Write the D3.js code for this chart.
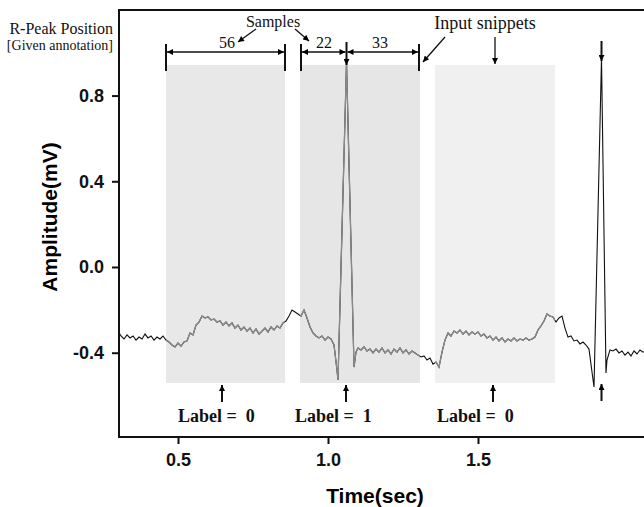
<!DOCTYPE html>
<html>
<head>
<meta charset="utf-8">
<script src="https://cdn.jsdelivr.net/npm/d3@7"></script>
<style>
  body { margin: 0; background: #fff; }
  svg { display: block; }
</style>
</head>
<body>
<div id="chart"></div>
<script>
// ECG trace: [time (s), amplitude (mV)]
const ecg = [
  [0.30, -0.299], [0.31, -0.322], [0.32, -0.336], [0.33, -0.317], [0.34, -0.331],
  [0.35, -0.322], [0.36, -0.341], [0.37, -0.327], [0.38, -0.336], [0.39, -0.313],
  [0.40, -0.331], [0.41, -0.322], [0.42, -0.341], [0.43, -0.327], [0.44, -0.336],
  [0.45, -0.322], [0.46, -0.341], [0.47, -0.350], [0.48, -0.364], [0.49, -0.373],
  [0.50, -0.355], [0.51, -0.369], [0.52, -0.350], [0.53, -0.345], [0.54, -0.308],
  [0.55, -0.317], [0.56, -0.271], [0.57, -0.257], [0.58, -0.229], [0.59, -0.238],
  [0.60, -0.233], [0.61, -0.247], [0.62, -0.243], [0.63, -0.257], [0.64, -0.252],
  [0.65, -0.271], [0.66, -0.257], [0.67, -0.275], [0.68, -0.261], [0.69, -0.285],
  [0.70, -0.271], [0.71, -0.294], [0.72, -0.280], [0.73, -0.299], [0.74, -0.285],
  [0.75, -0.308], [0.76, -0.289], [0.77, -0.313], [0.78, -0.299], [0.79, -0.285],
  [0.80, -0.303], [0.81, -0.280], [0.82, -0.294], [0.83, -0.275], [0.84, -0.285],
  [0.85, -0.261], [0.86, -0.252], [0.87, -0.229], [0.88, -0.201], [0.89, -0.210],
  [0.90, -0.219], [0.91, -0.229], [0.92, -0.201], [0.93, -0.238], [0.94, -0.280],
  [0.95, -0.308], [0.96, -0.322], [0.97, -0.331], [0.98, -0.322], [0.99, -0.341],
  [1.00, -0.327], [1.01, -0.336], [1.02, -0.364], [1.03, -0.481], [1.0333, -0.527],
  [1.0617, 0.957], [1.0867, -0.467], [1.0933, -0.397], [1.10, -0.378], [1.11, -0.387],
  [1.12, -0.373], [1.13, -0.392], [1.14, -0.383], [1.15, -0.401], [1.16, -0.383],
  [1.17, -0.397], [1.18, -0.378], [1.19, -0.401], [1.20, -0.387], [1.21, -0.406],
  [1.22, -0.383], [1.23, -0.397], [1.24, -0.378], [1.25, -0.401], [1.26, -0.387],
  [1.27, -0.406], [1.28, -0.392], [1.29, -0.401], [1.30, -0.411], [1.31, -0.420],
  [1.32, -0.415], [1.33, -0.434], [1.34, -0.425], [1.35, -0.453], [1.36, -0.443],
  [1.37, -0.467], [1.38, -0.397], [1.39, -0.341], [1.40, -0.308], [1.41, -0.322],
  [1.42, -0.299], [1.43, -0.308], [1.44, -0.294], [1.45, -0.313], [1.46, -0.299],
  [1.47, -0.317], [1.48, -0.303], [1.49, -0.313], [1.50, -0.303], [1.51, -0.322],
  [1.52, -0.313], [1.53, -0.331], [1.54, -0.322], [1.55, -0.341], [1.56, -0.327],
  [1.57, -0.345], [1.58, -0.331], [1.59, -0.350], [1.60, -0.336], [1.61, -0.345],
  [1.62, -0.331], [1.63, -0.345], [1.64, -0.336], [1.65, -0.341], [1.66, -0.331],
  [1.67, -0.341], [1.68, -0.336], [1.69, -0.327], [1.70, -0.294], [1.71, -0.275],
  [1.72, -0.252], [1.73, -0.219], [1.74, -0.229], [1.75, -0.233], [1.76, -0.257],
  [1.77, -0.238], [1.78, -0.229], [1.79, -0.285], [1.80, -0.327], [1.81, -0.322],
  [1.82, -0.345], [1.83, -0.341], [1.84, -0.359], [1.85, -0.350], [1.86, -0.364],
  [1.87, -0.383], [1.88, -0.490], [1.8867, -0.560], [1.9117, 0.975], [1.9267, -0.495],
  [1.93, -0.434], [1.94, -0.387], [1.95, -0.392], [1.96, -0.383], [1.97, -0.401],
  [1.98, -0.392], [1.99, -0.411], [2.00, -0.397], [2.01, -0.415], [2.02, -0.392],
  [2.03, -0.406], [2.04, -0.387], [2.05, -0.397], [2.06, -0.392]
];

// input snippets (seconds) and their labels
const snippetStart = [0.46, 0.9067, 1.3567];
const snippetEnd = [0.8567, 1.3067, 1.7567];
const snippetLabel = [0, 1, 0];
const snippetTop = 0.943;
const snippetBottom = -0.541;
const labelArrowAt = [0.6467, 1.06, 1.55];
const labelTextAt = [0.5, 0.89, 1.3633];

// R-peak annotations (seconds)
const rPeaks = [1.0617, 1.9117];

// sample counts marked on top
const sampleMarks = [0.46, 0.8567, 0.91, 1.0617, 1.3033];
const sampleCounts = ["56", "22", "33"];

const xTicks = [0.5, 1.0, 1.5];
const yTicks = [-0.4, 0.0, 0.4, 0.8];

const W = 644, H = 507;
const mLeft = 119, mTop = 10, mRight = 660, mBottom = 437;

const x = d3.scaleLinear().domain([0.3033, 2.1067]).range([mLeft, mRight]);
const y = d3.scaleLinear().domain([-0.7933, 1.1993]).range([mBottom, mTop]);

const svg = d3.select("#chart").append("svg")
  .attr("width", W).attr("height", H);

const defs = svg.append("defs");
defs.append("marker")
  .attr("id", "ah")
  .attr("viewBox", "0 0 10 10")
  .attr("refX", 10).attr("refY", 5)
  .attr("markerWidth", 7).attr("markerHeight", 6)
  .attr("markerUnits", "userSpaceOnUse")
  .attr("orient", "auto-start-reverse")
  .append("path").attr("d", "M0,0L10,5L0,10z").attr("fill", "#000");

defs.append("clipPath").attr("id", "plot")
  .append("rect").attr("x", mLeft).attr("y", mTop)
  .attr("width", mRight - mLeft).attr("height", mBottom - mTop);

snippetStart.forEach((s, i) => {
  defs.append("clipPath").attr("id", "snip" + i)
    .append("rect")
    .attr("x", x(s)).attr("y", mTop)
    .attr("width", x(snippetEnd[i]) - x(s))
    .attr("height", mBottom - mTop);
});

// shaded snippet boxes
const boxFill = ["#e8e8e8", "#e6e6e6", "#f0f0f0"];
svg.append("g").selectAll("rect")
  .data(snippetStart)
  .join("rect")
  .attr("x", d => x(d))
  .attr("y", y(snippetTop))
  .attr("width", (d, i) => x(snippetEnd[i]) - x(d))
  .attr("height", y(snippetBottom) - y(snippetTop))
  .attr("fill", (d, i) => boxFill[i]);

// ECG trace: black outside, gray inside the snippets
const line = d3.line().x(d => x(d[0])).y(d => y(d[1]));
svg.append("path")
  .datum(ecg)
  .attr("clip-path", "url(#plot)")
  .attr("d", line)
  .attr("fill", "none")
  .attr("stroke", "#111")
  .attr("stroke-width", 1.1);

snippetStart.forEach((s, i) => {
  svg.append("path")
    .datum(ecg)
    .attr("clip-path", `url(#snip${i})`)
    .attr("d", line)
    .attr("fill", "none")
    .attr("stroke", "#8a8a8a")
    .attr("stroke-width", 1.3);
});

// frame
svg.append("path")
  .attr("d", `M${mRight},${mTop}H${mLeft}V${mBottom}H${mRight}`)
  .attr("fill", "none")
  .attr("stroke", "#111")
  .attr("stroke-width", 2);

// axes
const fmt = d => d.toFixed(1);
const xAxis = svg.append("g")
  .attr("transform", `translate(0,${mBottom})`)
  .call(d3.axisBottom(x).tickValues(xTicks).tickSize(7).tickPadding(9).tickFormat(fmt));
const yAxis = svg.append("g")
  .attr("transform", `translate(${mLeft},0)`)
  .call(d3.axisLeft(y).tickValues(yTicks).tickSize(7).tickPadding(8).tickFormat(fmt));

[xAxis, yAxis].forEach(a => {
  a.select(".domain").remove();
  a.selectAll(".tick line").attr("stroke", "#111").attr("stroke-width", 2);
  a.selectAll(".tick text")
    .attr("fill", "#111")
    .style("font-family", "'Liberation Sans', Arial, sans-serif")
    .style("font-weight", "bold")
    .style("font-size", "18px");
});

svg.append("text")
  .attr("x", 375).attr("y", 503)
  .attr("text-anchor", "middle")
  .style("font-family", "'Liberation Sans', Arial, sans-serif")
  .style("font-weight", "bold")
  .style("font-size", "21px")
  .text("Time(sec)");

svg.append("text")
  .attr("transform", "translate(57,217) rotate(-90)")
  .attr("text-anchor", "middle")
  .style("font-family", "'Liberation Sans', Arial, sans-serif")
  .style("font-weight", "bold")
  .style("font-size", "21px")
  .text("Amplitude(mV)");

// annotations
const serif = "'Liberation Serif', 'DejaVu Serif', serif";
const ann = svg.append("g").attr("fill", "#111");

const arrow = (x1, y1, x2, y2, w) => ann.append("line")
  .attr("x1", x1).attr("y1", y1).attr("x2", x2).attr("y2", y2)
  .attr("stroke", "#111").attr("stroke-width", w || 1.3)
  .attr("marker-end", "url(#ah)");

ann.append("text").attr("x", 113).attr("y", 34).attr("text-anchor", "end")
  .style("font-family", serif).style("font-size", "16px").text("R-Peak Position");
ann.append("text").attr("x", 113).attr("y", 50).attr("text-anchor", "end")
  .style("font-family", serif).style("font-size", "14px").text("[Given annotation]");

ann.append("text").attr("x", 273).attr("y", 27).attr("text-anchor", "middle")
  .style("font-family", serif).style("font-size", "16px").text("Samples");
arrow(256, 29, 238, 42);
arrow(295, 29, 309, 41);

ann.append("text").attr("x", 485).attr("y", 29).attr("text-anchor", "middle")
  .style("font-family", serif).style("font-size", "18px").text("Input snippets");
arrow(445, 37, 423, 62);
arrow(x(1.55) + 2, 37, x(1.55) + 2, 64);

// dimension lines for the sample counts
const dimY = 52;
sampleMarks.filter((d, i) => i !== 3).forEach(t => {
  ann.append("line")
    .attr("x1", x(t)).attr("x2", x(t))
    .attr("y1", 44).attr("y2", 71)
    .attr("stroke", "#111").attr("stroke-width", 2);
});
const dims = [[0, 1], [2, 3], [3, 4]];
dims.forEach(([a, b], i) => {
  ann.append("line")
    .attr("x1", x(sampleMarks[a]) + 1).attr("x2", x(sampleMarks[b]) - 1)
    .attr("y1", dimY).attr("y2", dimY)
    .attr("stroke", "#111").attr("stroke-width", 1.3)
    .attr("marker-start", "url(#ah)")
    .attr("marker-end", "url(#ah)");
  ann.append("text")
    .attr("x", [227, 324, 380][i]).attr("y", 48)
    .attr("text-anchor", "middle")
    .style("font-family", serif).style("font-size", "16px")
    .text(sampleCounts[i]);
});

// R-peak arrows
rPeaks.forEach((t, i) => {
  arrow(x(t), i === 0 ? 42 : 41, x(t), i === 0 ? 65 : 61, 2);
});
arrow(x(rPeaks[1]), 401, x(rPeaks[1]), 384, 2);

// label arrows and texts
labelArrowAt.forEach((t, i) => {
  arrow(x(t), 402, x(t), 385, 2);
  ann.append("text")
    .attr("x", x(labelTextAt[i])).attr("y", 422)
    .style("font-family", serif).style("font-weight", "bold").style("font-size", "18px")
    .style("white-space", "pre")
    .text("Label =  " + snippetLabel[i]);
});
</script>
</body>
</html>
